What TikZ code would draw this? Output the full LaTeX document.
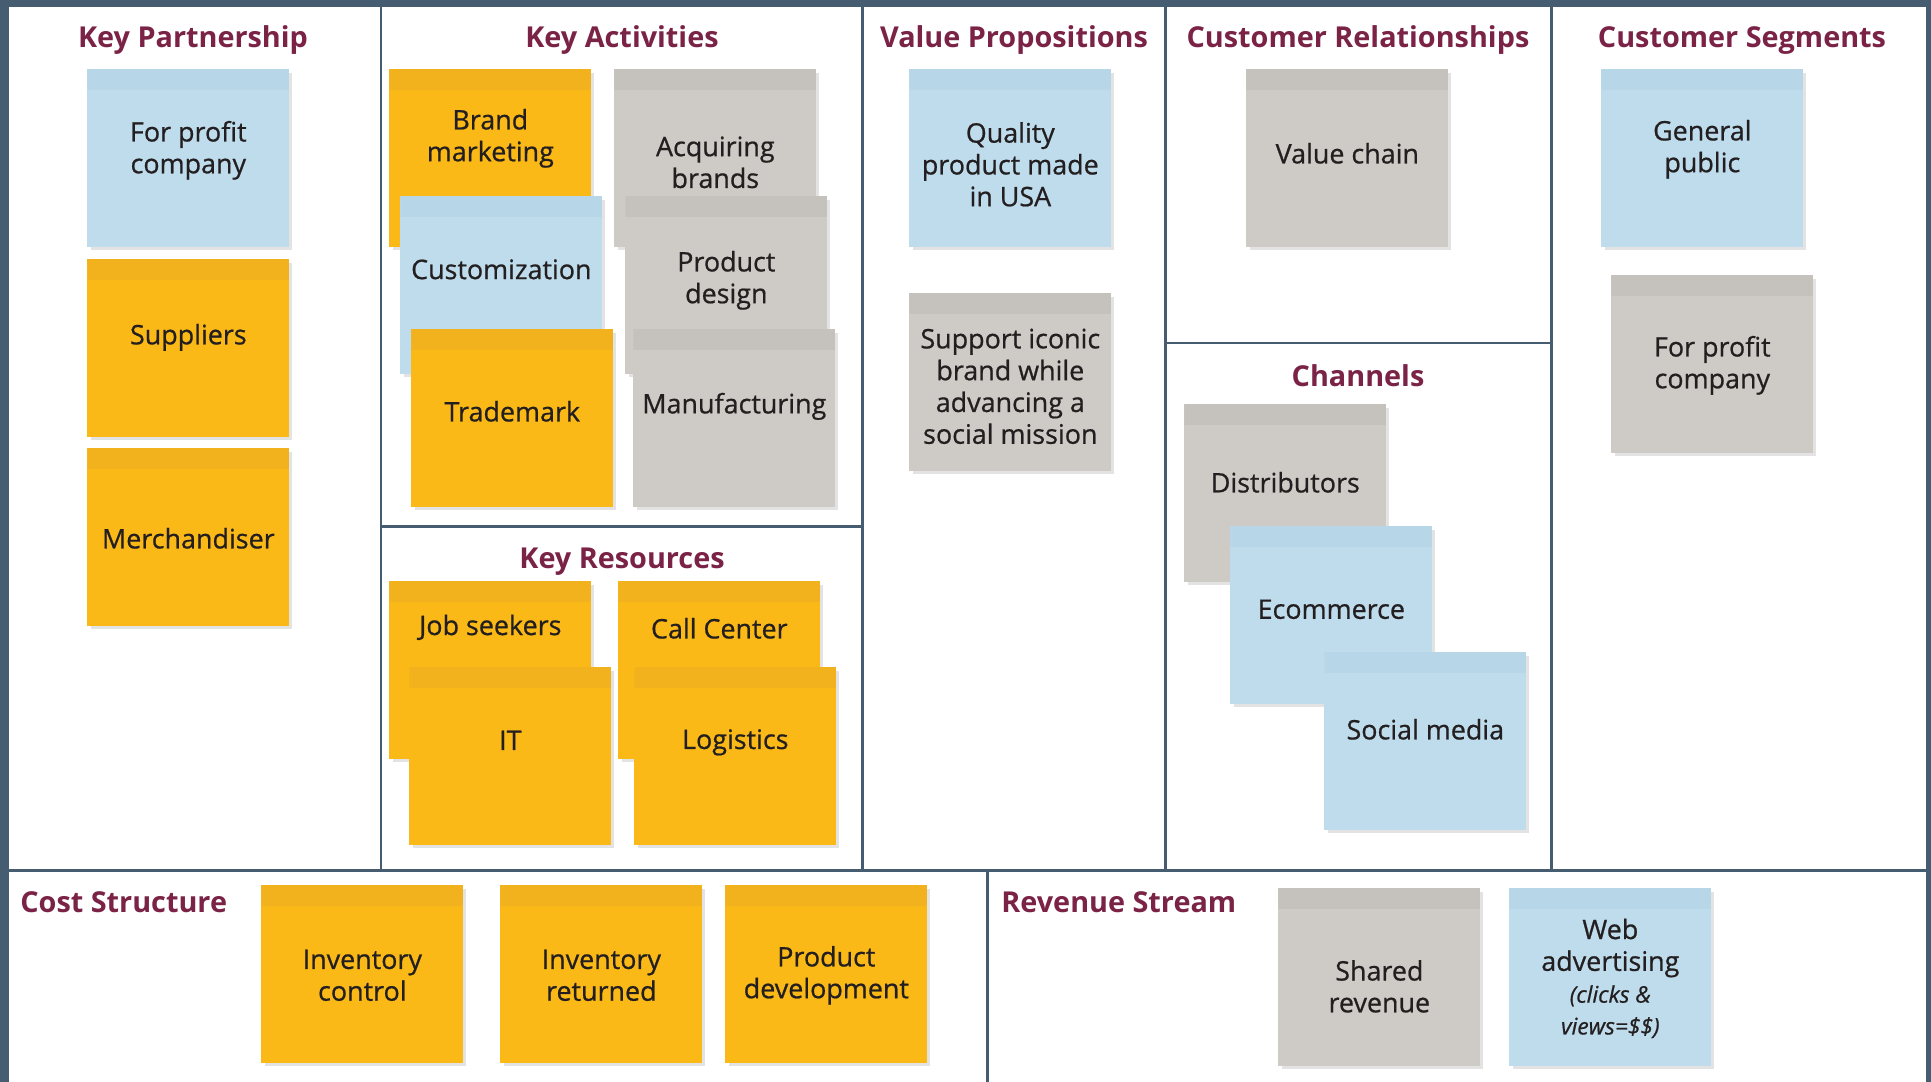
\documentclass[tikz,border=0pt]{standalone}
\usepackage{fontspec}
\setmainfont{Open Sans}
\newfontfamily\padfont{Open Sans}[FakeBold=0.7]
\usepackage{xcolor}
\usetikzlibrary{shadows}

\definecolor{padyellow}{RGB}{251,185,23}
\definecolor{bandyellow}{RGB}{241,178,30}
\definecolor{padblue}{RGB}{190,220,236}
\definecolor{bandblue}{RGB}{183,214,231}
\definecolor{padgrey}{RGB}{206,203,198}
\definecolor{bandgrey}{RGB}{197,194,189}
\definecolor{titlered}{RGB}{123,35,70}
\definecolor{framecol}{RGB}{70,92,112}
\definecolor{ink}{RGB}{35,31,32}

\tikzset{
	pad/.style 2 args={rectangle, anchor=north west, inner sep=0pt,
		minimum width=4.04cm, minimum height=3.56cm, fill=#1,
		drop shadow={shadow xshift=1.8pt, shadow yshift=-1.8pt, opacity=0.22},
		path picture={\fill[#2] (path picture bounding box.north west) rectangle ([yshift=-0.42cm]path picture bounding box.north east);}},
	yellowpad/.style={pad={padyellow}{bandyellow}},
	bluepad/.style={pad={padblue}{bandblue}},
	greypad/.style={pad={padgrey}{bandgrey}},
	padtext/.style={align=center, text=ink, inner sep=0pt, font=\padfont\fontsize{15.3}{18.1}\selectfont},
	heading/.style={anchor=base, inner sep=0pt, text=titlered, font=\bfseries\fontsize{16.4}{19}\selectfont},
	divider/.style={draw=framecol, line width=1.7pt}
}

% #1 style, #2 name, #3/#4 top left corner, #5 text offset, #6 text
\newcommand{\sticky}[6]{%
	\node[#1] (#2) at (#3,#4) {};
	\node[padtext] (#2-text) at ([shift={(0,#5)}]#2.center) {#6};
}

\begin{document}
\begin{tikzpicture}[x=0.02cm, y=-0.02cm]
			\def\W{1931};
			\def\H{1082};
			\def\midY{870};

			\useasboundingbox (0,0) rectangle (\W,\H);
			\fill[white] (0,0) rectangle (\W,\H);

			\begin{scope}
				\fill[framecol] (0,0) rectangle (9,\H);
				\fill[framecol] (0,0) rectangle (\W,7);
				\fill[framecol] (1926,0) rectangle (\W,\H);
			\end{scope}

			\begin{scope}[divider]
				\draw (381,7) -- (381,\midY);
				\draw (862,7) -- (862,\midY);
				\draw (1165,7) -- (1165,\midY);
				\draw (1551,7) -- (1551,\midY);
				\draw (381,526) -- (862,526);
				\draw (1165,343) -- (1551,343);
				\draw (9,\midY) -- (1926,\midY);
				\draw (987,\midY) -- (987,\H);
			\end{scope}

			\begin{scope}
				\node[heading] (kp) at (193,47) {Key Partnership};
				\node[heading] (ka) at (622,47) {Key Activities};
				\node[heading] (vp) at (1014,47) {Value Propositions};
				\node[heading] (cr) at (1358,47) {Customer Relationships};
				\node[heading] (cs) at (1742,47) {Customer Segments};
				\node[heading] (kr) at (622,568) {Key Resources};
				\node[heading] (ch) at (1358,386) {Channels};
				\node[heading, anchor=base west] (cost) at (20,912) {Cost Structure};
				\node[heading, anchor=base west] (rev) at (1001,912) {Revenue Stream};
			\end{scope}

			\begin{scope}
				\sticky{bluepad}{profitA}{87}{69}{-8}{For profit\\company}
				\sticky{yellowpad}{suppliers}{87}{259}{-11}{Suppliers}
				\sticky{yellowpad}{merch}{87}{448}{1}{Merchandiser}
			\end{scope}

			\begin{scope}
				\sticky{yellowpad}{brand}{389}{69}{-20}{Brand\\marketing}
				\sticky{greypad}{acquire}{614}{69}{4}{Acquiring\\brands}
				\sticky{bluepad}{custom}{400}{196}{-16}{Customization}
				\sticky{greypad}{design}{625}{196}{-5}{Product\\design}
				\sticky{yellowpad}{trademark}{411}{329}{-7}{Trademark}
				\sticky{greypad}{manufact}{633}{329}{-12}{Manufacturing}
			\end{scope}

			\begin{scope}
				\sticky{yellowpad}{jobs}{389}{581}{-43}{Job seekers}
				\sticky{yellowpad}{call}{618}{581}{-42}{Call Center}
				\sticky{yellowpad}{it}{409}{667}{-16}{IT}
				\sticky{yellowpad}{logistics}{634}{667}{-14}{Logistics}
			\end{scope}

			\begin{scope}
				\sticky{bluepad}{quality}{909}{69}{6}{Quality\\product made\\in USA}
				\sticky{greypad}{iconic}{909}{293}{4}{Support iconic\\brand while\\advancing a\\social mission}
				\sticky{greypad}{chain}{1246}{69}{-5}{Value chain}
			\end{scope}

			\begin{scope}
				\sticky{greypad}{distrib}{1184}{404}{-11}{Distributors}
				\sticky{bluepad}{ecom}{1230}{526}{-6}{Ecommerce}
				\sticky{bluepad}{social}{1324}{652}{-12}{Social media}
			\end{scope}

			\begin{scope}
				\sticky{bluepad}{public}{1601}{69}{-9}{General\\public}
				\sticky{greypad}{profitB}{1611}{275}{1}{For profit\\company}
			\end{scope}

			\begin{scope}
				\sticky{yellowpad}{invctrl}{261}{885}{1}{Inventory\\control}
				\sticky{yellowpad}{invret}{500}{885}{1}{Inventory\\returned}
				\sticky{yellowpad}{prodev}{725}{885}{1}{Product\\development}
				\sticky{greypad}{shared}{1278}{888}{9}{Shared\\revenue}
				\sticky{bluepad}{webad}{1509}{888}{1}{Web\\advertising\\{\itshape\fontsize{13}{15}\selectfont (clicks \&}\\{\itshape\fontsize{13}{15}\selectfont views=\$\$)}}
			\end{scope}
		\end{tikzpicture}
\end{document}
